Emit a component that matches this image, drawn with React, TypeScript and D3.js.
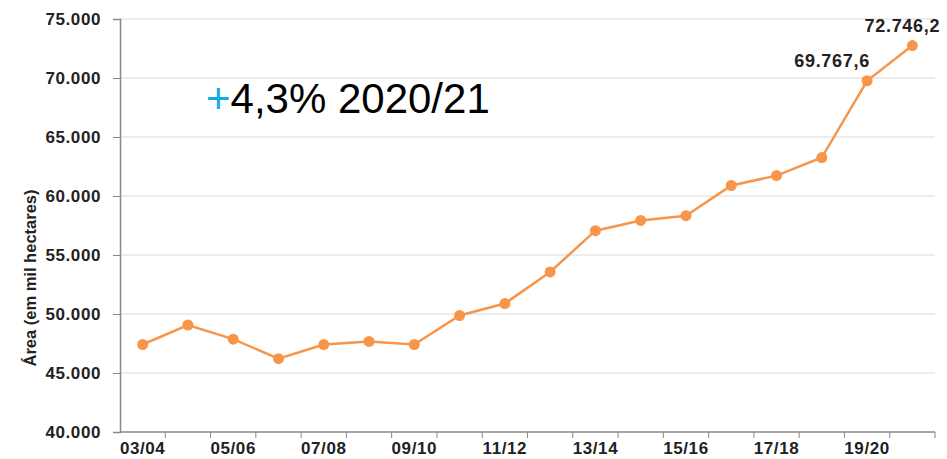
import React, { useEffect, useRef } from "react";
import * as d3 from "d3";

const seasons = [
  "03/04", "04/05", "05/06", "06/07", "07/08", "08/09", "09/10", "10/11", "11/12",
  "12/13", "13/14", "14/15", "15/16", "16/17", "17/18", "18/19", "19/20", "20/21",
];
const area = [
  47415, 49068, 47868, 46214, 47411, 47674, 47416, 49873, 50885,
  53563, 57060, 57930, 58332, 60889, 61728, 63260, 69767.6, 72746.2,
];
const yTicks = [40000, 45000, 50000, 55000, 60000, 65000, 70000, 75000];
const labelled = ["19/20", "20/21"];

const fmtInt = (v: number) => d3.format(",")(v).replace(/,/g, ".");
const fmtDec = (v: number) => {
  const [i, d] = v.toFixed(1).split(".");
  return fmtInt(+i) + "," + d;
};

export default function App() {
  const svgRef = useRef<SVGSVGElement>(null);
  const width = 947;
  const height = 459;

  useEffect(() => {
    const svg = d3.select(svgRef.current);
    svg.selectAll("*").remove();

    const margin = { top: 19, right: 12, bottom: 27, left: 120 };
    const innerW = width - margin.left - margin.right;
    const innerH = height - margin.top - margin.bottom;
    const font = "'Liberation Sans', Arial, sans-serif";

    const g = svg.append("g").attr("transform", `translate(${margin.left},${margin.top})`);

    const x = d3.scaleBand().domain(seasons).range([0, innerW]).padding(0);
    const y = d3.scaleLinear().domain([40000, 75000]).range([innerH, 0]);

    // gridlines
    g.append("g")
      .selectAll("line")
      .data(yTicks.slice(1))
      .enter()
      .append("line")
      .attr("x1", 0)
      .attr("x2", innerW)
      .attr("y1", d => y(d))
      .attr("y2", d => y(d))
      .attr("stroke", "#d9d9d9")
      .attr("stroke-width", 1);

    // y axis
    const yAxis = g.append("g")
      .call(d3.axisLeft(y).tickValues(yTicks).tickFormat(d => fmtInt(+d)).tickSize(7).tickPadding(12));
    yAxis.select(".domain").attr("stroke", "#888").attr("stroke-width", 1.5);
    yAxis.selectAll(".tick line").attr("stroke", "#888");
    yAxis.selectAll("text")
      .attr("font-family", font)
      .attr("font-weight", "bold")
      .attr("font-size", 17)
      .attr("letter-spacing", 0.6)
      .attr("fill", "#222");

    // x axis: ticks on band boundaries, labels on every other band
    const xAxisG = g.append("g").attr("transform", `translate(0,${innerH})`);
    xAxisG.append("line")
      .attr("x1", 0).attr("x2", innerW)
      .attr("stroke", "#888").attr("stroke-width", 1.5);
    xAxisG.selectAll(".tk")
      .data(seasons)
      .enter()
      .append("line")
      .attr("x1", d => (x(d) as number) + x.bandwidth())
      .attr("x2", d => (x(d) as number) + x.bandwidth())
      .attr("y1", 0)
      .attr("y2", 6)
      .attr("stroke", "#888");
    xAxisG.selectAll(".lbl")
      .data(seasons.filter((_, i) => i % 2 === 0))
      .enter()
      .append("text")
      .attr("x", d => (x(d) as number) + x.bandwidth() / 2)
      .attr("y", 22)
      .attr("text-anchor", "middle")
      .attr("font-family", font)
      .attr("font-weight", "bold")
      .attr("font-size", 17)
      .attr("letter-spacing", 0.6)
      .attr("fill", "#222")
      .text(d => d);

    const cx = (s: string) => (x(s) as number) + x.bandwidth() / 2;
    const line = d3.line<number>()
      .x((_, i) => cx(seasons[i]))
      .y(d => y(d));

    g.append("path")
      .datum(area)
      .attr("fill", "none")
      .attr("stroke", "#F7964A")
      .attr("stroke-width", 2.5)
      .attr("d", line);

    g.selectAll(".pt")
      .data(area)
      .enter()
      .append("circle")
      .attr("cx", (_, i) => cx(seasons[i]))
      .attr("cy", d => y(d))
      .attr("r", 5.5)
      .attr("fill", "#F7964A");

    // data labels
    labelled.forEach((s, k) => {
      const i = seasons.indexOf(s);
      g.append("text")
        .attr("x", cx(s) + (k === 0 ? -35 : -10))
        .attr("y", y(area[i]) - 14)
        .attr("text-anchor", "middle")
        .attr("font-family", font)
        .attr("font-weight", "bold")
        .attr("font-size", 18)
        .attr("letter-spacing", 0.7)
        .attr("fill", "#222")
        .text(fmtDec(area[i]));
    });

    // annotation
    const ann = svg.append("text")
      .attr("x", 206)
      .attr("y", 113)
      .attr("font-family", font)
      .attr("font-size", 42)
      .attr("fill", "#000");
    ann.append("tspan").attr("fill", "#13A8E6").text("+");
    ann.append("tspan").text("4,3% 2020/21");

    // y axis title
    svg.append("text")
      .attr("transform", `translate(36,${278}) rotate(-90)`)
      .attr("text-anchor", "middle")
      .attr("font-family", font)
      .attr("font-weight", "bold")
      .attr("font-size", 16.5)
      .attr("fill", "#222")
      .text("Área (em mil hectares)");
  }, []);

  return (
    <svg
      ref={svgRef}
      width={width}
      height={height}
      style={{ position: "absolute", left: 0, top: 0, background: "#fff" }}
    />
  );
}
